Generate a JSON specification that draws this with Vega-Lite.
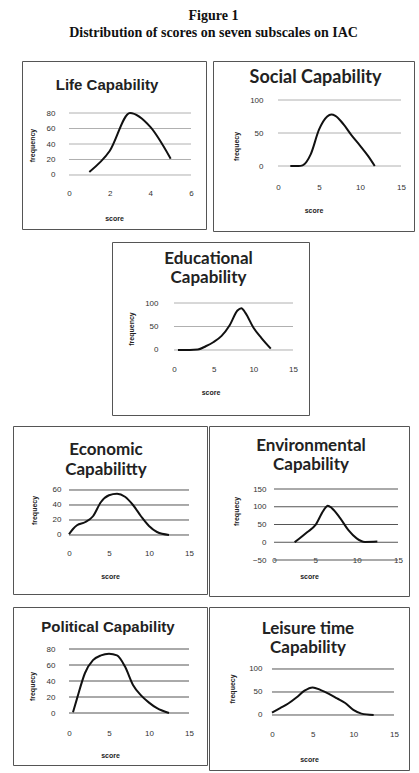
{
  "$schema": "https://vega.github.io/schema/vega-lite/v6.json",
  "background": "white",
  "padding": {"left": 12, "top": 8, "right": 0, "bottom": 0},
  "title": {"text": ["Figure 1", "Distribution of scores on seven subscales on IAC"], "font": "Liberation Serif", "fontSize": 14, "fontWeight": "bold", "lineHeight": 17, "offset": 21, "anchor": "middle", "color": "#111"},
  "spacing": 9,
  "config": {
    "view": {"stroke": "#555", "strokeWidth": 1},
    "axis": {"labelFont": "Liberation Sans", "titleFont": "Liberation Sans", "labelColor": "#333", "titleColor": "#222", "labelFontSize": 8, "titleFontSize": 7, "titleFontWeight": "bold", "domain": false, "ticks": false, "tickSize": 0, "grid": false, "labelFlush": false, "labelPadding": 0}
  },
  "vconcat": [
    {
      "hconcat": [
        {"width": 2, "height": 10, "data": {"values": []}, "mark": "point", "view": {"stroke": null}},
        {
          "width": 184, "height": 168,
          "title": {"text": "Life Capability", "font": "Liberation Sans", "fontSize": 15, "fontWeight": "bold", "offset": -32, "dx": -7, "color": "#222"},
          "layer": [
            {"data": {"values": [{"g": 0}, {"g": 20}, {"g": 40}, {"g": 60}, {"g": 80}]},
             "mark": {"type": "rule", "color": "#b0b0b0", "strokeWidth": 1},
             "encoding": {"y": {"field": "g", "type": "quantitative", "scale": {"domain": [-69.68, 147.1], "nice": false, "zero": false}, "axis": {"title": "frequency", "values": [0, 20, 40, 60, 80], "offset": -33, "titlePadding": 11}},
                          "x": {"datum": 0, "type": "quantitative", "scale": {"domain": [-2.311, 6.738], "nice": false, "zero": false}, "axis": {"title": "score", "values": [0, 2, 4, 6], "offset": -36, "labelBaseline": "middle", "titlePadding": 17}}, "x2": {"datum": 6}}},
            {"data": {"values": [{"score": 1, "frequency": 4}, {"score": 2, "frequency": 31}, {"score": 3, "frequency": 80}, {"score": 4, "frequency": 62}, {"score": 5, "frequency": 21}]},
             "mark": {"type": "line", "interpolate": "monotone", "color": "#111", "strokeWidth": 2},
             "encoding": {"x": {"field": "score", "type": "quantitative", "scale": {"domain": [-2.311, 6.738], "nice": false, "zero": false}, "axis": {"title": "score", "values": [0, 2, 4, 6], "offset": -36, "labelBaseline": "middle", "titlePadding": 17}},
                          "y": {"field": "frequency", "type": "quantitative", "scale": {"domain": [-69.68, 147.1], "nice": false, "zero": false}, "axis": {"title": "frequency", "values": [0, 20, 40, 60, 80], "offset": -33, "titlePadding": 11}}}}
          ]
        },
        {
          "width": 201, "height": 170,
          "title": {"text": "Social Capability", "font": "Lato", "fontSize": 18, "fontWeight": "bold", "offset": -26, "dx": 2, "color": "#222"},
          "layer": [
            {"data": {"values": [{"g": 0}, {"g": 50}, {"g": 100}]},
             "mark": {"type": "rule", "color": "#b0b0b0", "strokeWidth": 1},
             "encoding": {"y": {"field": "g", "type": "quantitative", "scale": {"domain": [-98.48, 159.09], "nice": false, "zero": false}, "axis": {"title": "frequecy", "values": [0, 50, 100], "offset": -50, "titlePadding": 10}},
                          "x": {"datum": 0, "type": "quantitative", "scale": {"domain": [-7.927, 16.585], "nice": false, "zero": false}, "axis": {"title": "score", "values": [0, 5, 10, 15], "offset": -44, "labelBaseline": "middle", "titlePadding": 15}}, "x2": {"datum": 15}}},
            {"data": {"values": [{"score": 1.5, "frequency": 0}, {"score": 2.5, "frequency": 0}, {"score": 3, "frequency": 1}, {"score": 4, "frequency": 18}, {"score": 5, "frequency": 55}, {"score": 6, "frequency": 75}, {"score": 6.5, "frequency": 78}, {"score": 7, "frequency": 76}, {"score": 8, "frequency": 63}, {"score": 9, "frequency": 46}, {"score": 10, "frequency": 31}, {"score": 11, "frequency": 15}, {"score": 11.8, "frequency": 0}]},
             "mark": {"type": "line", "interpolate": "monotone", "color": "#111", "strokeWidth": 2},
             "encoding": {"x": {"field": "score", "type": "quantitative", "scale": {"domain": [-7.927, 16.585], "nice": false, "zero": false}, "axis": {"title": "score", "values": [0, 5, 10, 15], "offset": -44, "labelBaseline": "middle", "titlePadding": 15}},
                          "y": {"field": "frequency", "type": "quantitative", "scale": {"domain": [-98.48, 159.09], "nice": false, "zero": false}, "axis": {"title": "frequecy", "values": [0, 50, 100], "offset": -50, "titlePadding": 10}}}}
          ]
        }
      ],
      "spacing": 7, "bounds": "flush"
    },
    {
      "hconcat": [
        {"width": 92, "height": 10, "data": {"values": []}, "mark": "point", "view": {"stroke": null}},
        {
          "width": 197, "height": 173,
          "title": {"text": ["Educational", "Capability"], "font": "Lato", "fontSize": 17, "fontWeight": "bold", "lineHeight": 19, "offset": -45, "dx": -2, "color": "#222"},
          "layer": [
            {"data": {"values": [{"g": 0}, {"g": 50}, {"g": 100}]},
             "mark": {"type": "rule", "color": "#b0b0b0", "strokeWidth": 1},
             "encoding": {"y": {"field": "g", "type": "quantitative", "scale": {"domain": [-138.3, 229.79], "nice": false, "zero": false}, "axis": {"title": "frequency", "values": [0, 50, 100], "offset": -46, "titlePadding": 10}},
                          "x": {"datum": 0, "type": "quantitative", "scale": {"domain": [-7.815, 17.017], "nice": false, "zero": false}, "axis": {"title": "score", "values": [0, 5, 10, 15], "offset": -46, "labelBaseline": "middle", "titlePadding": 15}}, "x2": {"datum": 15}}},
            {"data": {"values": [{"score": 0.5, "frequency": 0}, {"score": 2, "frequency": 0}, {"score": 3, "frequency": 1}, {"score": 4, "frequency": 8}, {"score": 5, "frequency": 17}, {"score": 6, "frequency": 30}, {"score": 7, "frequency": 52}, {"score": 8, "frequency": 84}, {"score": 8.5, "frequency": 89}, {"score": 9, "frequency": 79}, {"score": 10, "frequency": 48}, {"score": 11, "frequency": 26}, {"score": 12.2, "frequency": 3}]},
             "mark": {"type": "line", "interpolate": "monotone", "color": "#111", "strokeWidth": 2},
             "encoding": {"x": {"field": "score", "type": "quantitative", "scale": {"domain": [-7.815, 17.017], "nice": false, "zero": false}, "axis": {"title": "score", "values": [0, 5, 10, 15], "offset": -46, "labelBaseline": "middle", "titlePadding": 15}},
                          "y": {"field": "frequency", "type": "quantitative", "scale": {"domain": [-138.3, 229.79], "nice": false, "zero": false}, "axis": {"title": "frequency", "values": [0, 50, 100], "offset": -46, "titlePadding": 10}}}}
          ]
        }
      ],
      "spacing": 7, "bounds": "flush"
    },
    {
      "hconcat": [
        {
          "width": 194, "height": 168,
          "title": {"text": ["Economic", "Capabilitty"], "font": "Lato", "fontSize": 17, "fontWeight": "bold", "lineHeight": 20, "offset": -53, "dx": -4, "color": "#222"},
          "layer": [
            {"data": {"values": [{"g": 0}, {"g": 20}, {"g": 40}, {"g": 60}]},
             "mark": {"type": "rule", "color": "#555", "strokeWidth": 1},
             "encoding": {"y": {"field": "g", "type": "quantitative", "scale": {"domain": [-78.67, 145.33], "nice": false, "zero": false}, "axis": {"title": "frequecy", "values": [0, 20, 40, 60], "offset": -48, "titlePadding": 15}},
                          "x": {"datum": 0, "type": "quantitative", "scale": {"domain": [-7, 17.25], "nice": false, "zero": false}, "axis": {"title": "score", "values": [0, 5, 10, 15], "offset": -41, "labelBaseline": "middle", "titlePadding": 15}}, "x2": {"datum": 15}}},
            {"data": {"values": [{"score": 0, "frequency": 1}, {"score": 0.5, "frequency": 8}, {"score": 1, "frequency": 13}, {"score": 2, "frequency": 17}, {"score": 3, "frequency": 25}, {"score": 4, "frequency": 44}, {"score": 5, "frequency": 53}, {"score": 6, "frequency": 55}, {"score": 7, "frequency": 51}, {"score": 8, "frequency": 40}, {"score": 9, "frequency": 25}, {"score": 10, "frequency": 12}, {"score": 11, "frequency": 4}, {"score": 12.5, "frequency": 0}]},
             "mark": {"type": "line", "interpolate": "monotone", "color": "#111", "strokeWidth": 2},
             "encoding": {"x": {"field": "score", "type": "quantitative", "scale": {"domain": [-7, 17.25], "nice": false, "zero": false}, "axis": {"title": "score", "values": [0, 5, 10, 15], "offset": -41, "labelBaseline": "middle", "titlePadding": 15}},
                          "y": {"field": "frequency", "type": "quantitative", "scale": {"domain": [-78.67, 145.33], "nice": false, "zero": false}, "axis": {"title": "frequecy", "values": [0, 20, 40, 60], "offset": -48, "titlePadding": 15}}}}
          ]
        },
        {
          "width": 200, "height": 170,
          "title": {"text": ["Environmental", "Capability"], "font": "Lato", "fontSize": 17, "fontWeight": "bold", "lineHeight": 19, "offset": -48, "dx": 2, "color": "#222"},
          "layer": [
            {"data": {"values": [{"g": -50}, {"g": 0}, {"g": 50}, {"g": 100}, {"g": 150}]},
             "mark": {"type": "rule", "color": "#555", "strokeWidth": 1},
             "encoding": {"y": {"field": "g", "type": "quantitative", "scale": {"domain": [-151.4, 327.46], "nice": false, "zero": false}, "axis": {"title": "frequecy", "values": [-50, 0, 50, 100, 150], "offset": -57, "titlePadding": 13}},
                          "x": {"datum": 0, "type": "quantitative", "scale": {"domain": [-7.863, 16.33], "nice": false, "zero": false}, "axis": {"title": "score", "values": [0, 5, 10, 15], "offset": -36, "labelBaseline": "middle", "titlePadding": 8}}, "x2": {"datum": 15}}},
            {"data": {"values": [{"score": 2.5, "frequency": 0}, {"score": 3, "frequency": 9}, {"score": 4, "frequency": 28}, {"score": 5, "frequency": 48}, {"score": 6, "frequency": 90}, {"score": 6.5, "frequency": 103}, {"score": 7, "frequency": 96}, {"score": 8, "frequency": 68}, {"score": 9, "frequency": 34}, {"score": 10, "frequency": 11}, {"score": 11, "frequency": 1}, {"score": 12.5, "frequency": 2}]},
             "mark": {"type": "line", "interpolate": "monotone", "color": "#111", "strokeWidth": 2},
             "encoding": {"x": {"field": "score", "type": "quantitative", "scale": {"domain": [-7.863, 16.33], "nice": false, "zero": false}, "axis": {"title": "score", "values": [0, 5, 10, 15], "offset": -36, "labelBaseline": "middle", "titlePadding": 8}},
                          "y": {"field": "frequency", "type": "quantitative", "scale": {"domain": [-151.4, 327.46], "nice": false, "zero": false}, "axis": {"title": "frequecy", "values": [-50, 0, 50, 100, 150], "offset": -57, "titlePadding": 13}}}}
          ]
        }
      ],
      "spacing": 2, "bounds": "flush"
    },
    {
      "hconcat": [
        {
          "width": 194, "height": 158,
          "title": {"text": "Political Capability", "font": "Liberation Sans", "fontSize": 15, "fontWeight": "bold", "offset": -28, "dx": -2, "color": "#222"},
          "layer": [
            {"data": {"values": [{"g": 0}, {"g": 20}, {"g": 40}, {"g": 60}, {"g": 80}]},
             "mark": {"type": "rule", "color": "#555", "strokeWidth": 1},
             "encoding": {"y": {"field": "g", "type": "quantitative", "scale": {"domain": [-65, 132.5], "nice": false, "zero": false}, "axis": {"title": "frequecy", "values": [0, 20, 40, 60, 80], "offset": -42, "titlePadding": 11}},
                          "x": {"datum": 0, "type": "quantitative", "scale": {"domain": [-7, 17.25], "nice": false, "zero": false}, "axis": {"title": "score", "values": [0, 5, 10, 15], "offset": -32, "labelBaseline": "middle", "titlePadding": 14}}, "x2": {"datum": 15}}},
            {"data": {"values": [{"score": 0.5, "frequency": 1}, {"score": 1, "frequency": 18}, {"score": 2, "frequency": 50}, {"score": 3, "frequency": 66}, {"score": 4, "frequency": 72}, {"score": 5, "frequency": 74}, {"score": 6, "frequency": 72}, {"score": 7, "frequency": 58}, {"score": 8, "frequency": 35}, {"score": 9, "frequency": 22}, {"score": 10, "frequency": 13}, {"score": 11, "frequency": 6}, {"score": 12.5, "frequency": 0}]},
             "mark": {"type": "line", "interpolate": "monotone", "color": "#111", "strokeWidth": 2},
             "encoding": {"x": {"field": "score", "type": "quantitative", "scale": {"domain": [-7, 17.25], "nice": false, "zero": false}, "axis": {"title": "score", "values": [0, 5, 10, 15], "offset": -32, "labelBaseline": "middle", "titlePadding": 14}},
                          "y": {"field": "frequency", "type": "quantitative", "scale": {"domain": [-65, 132.5], "nice": false, "zero": false}, "axis": {"title": "frequecy", "values": [0, 20, 40, 60, 80], "offset": -42, "titlePadding": 11}}}}
          ]
        },
        {
          "width": 200, "height": 163,
          "title": {"text": ["Leisure time", "Capability"], "font": "Lato", "fontSize": 17, "fontWeight": "bold", "lineHeight": 19, "offset": -50, "dx": -1, "color": "#222"},
          "layer": [
            {"data": {"values": [{"g": 0}, {"g": 50}, {"g": 100}]},
             "mark": {"type": "rule", "color": "#555", "strokeWidth": 1},
             "encoding": {"y": {"field": "g", "type": "quantitative", "scale": {"domain": [-119.57, 234.78], "nice": false, "zero": false}, "axis": {"title": "frequecy", "values": [0, 50, 100], "offset": -53, "titlePadding": 13}},
                          "x": {"datum": 0, "type": "quantitative", "scale": {"domain": [-7.746, 16.845], "nice": false, "zero": false}, "axis": {"title": "score", "values": [0, 5, 10, 15], "offset": -36, "labelBaseline": "middle", "titlePadding": 17}}, "x2": {"datum": 15}}},
            {"data": {"values": [{"score": 0, "frequency": 5}, {"score": 1, "frequency": 15}, {"score": 2, "frequency": 25}, {"score": 3, "frequency": 38}, {"score": 4, "frequency": 53}, {"score": 5, "frequency": 60}, {"score": 6, "frequency": 54}, {"score": 7, "frequency": 46}, {"score": 8, "frequency": 36}, {"score": 9, "frequency": 26}, {"score": 10, "frequency": 11}, {"score": 11, "frequency": 3}, {"score": 12.5, "frequency": 0}]},
             "mark": {"type": "line", "interpolate": "monotone", "color": "#111", "strokeWidth": 2},
             "encoding": {"x": {"field": "score", "type": "quantitative", "scale": {"domain": [-7.746, 16.845], "nice": false, "zero": false}, "axis": {"title": "score", "values": [0, 5, 10, 15], "offset": -36, "labelBaseline": "middle", "titlePadding": 17}},
                          "y": {"field": "frequency", "type": "quantitative", "scale": {"domain": [-119.57, 234.78], "nice": false, "zero": false}, "axis": {"title": "frequecy", "values": [0, 50, 100], "offset": -53, "titlePadding": 13}}}}
          ]
        }
      ],
      "spacing": 2, "bounds": "flush"
    }
  ]
}
